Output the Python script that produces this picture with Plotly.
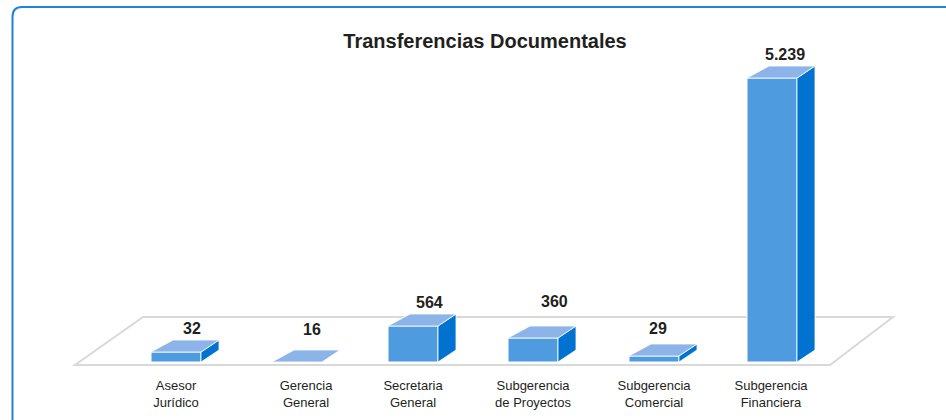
import plotly.graph_objects as go

# ---- data ----
categories = ["Asesor<br>Jurídico", "Gerencia<br>General", "Secretaria<br>General",
              "Subgerencia<br>de Proyectos", "Subgerencia<br>Comercial", "Subgerencia<br>Financiera"]
value_labels = ["32", "16", "564", "360", "29", "5.239"]
# The source draws its short bars out of proportion to their labels, so the
# heights below are what is seen in the picture, on the scale of the tallest bar.
drawn_values = [184, 0, 664, 443, 111, 5239]

# ---- layout constants (pixels of the 946x420 page) ----
W, H = 946, 420
PLOT_BOTTOM = 372
ZERO_Y, TOP_Y = 362, 78
UNITS_PER_PX = 5239 / (ZERO_Y - TOP_Y)
bar_centers = [176, 297, 413, 533, 654, 772]
label_centers = [176, 306, 413, 533, 654, 771]
label_xshift = [16, 15, 16, 21, 4, 13]
label_yshift = [24, 33, 24, 36, 27, 24]
BAR_W = 50
BACK_L, BACK_R, BACK_UP = 22, 18, 12

FRONT, SIDE, TOP = "#4E9BDF", "#0072D0", "#8CB4E9"
BORDER = "#1F82DC"


def px(x):
    return x / W


def py(y):
    return (PLOT_BOTTOM - y) / PLOT_BOTTOM


fig = go.Figure()
fig.add_trace(go.Bar(x=bar_centers, y=drawn_values, width=BAR_W,
                     marker=dict(color=FRONT, line=dict(color="white", width=1)),
                     hoverinfo="skip", showlegend=False))

up = BACK_UP * UNITS_PER_PX
for c, v in zip(bar_centers, drawn_values):
    l, r = c - BAR_W / 2, c + BAR_W / 2
    fig.add_trace(go.Scatter(x=[r, r + BACK_R, r + BACK_R, r, r], y=[0, up, v + up, v, 0],
                             mode="lines", fill="toself", fillcolor=SIDE,
                             line=dict(color="white", width=0.8),
                             hoverinfo="skip", showlegend=False))
    fig.add_trace(go.Scatter(x=[l, l + BACK_L, r + BACK_R, r, l], y=[v, v + up, v + up, v, v],
                             mode="lines", fill="toself", fillcolor=TOP,
                             line=dict(color="white", width=0.8),
                             hoverinfo="skip", showlegend=False))

annotations = [
    dict(x=c, y=v, xref="x", yref="y", text=t, showarrow=False, xshift=dx, yshift=dy,
         xanchor="center", yanchor="middle",
         font=dict(family="Liberation Sans", size=16, color="#231F20", weight="bold"))
    for c, v, t, dx, dy in zip(bar_centers, drawn_values, value_labels, label_xshift, label_yshift)
]

floor = [(75, 365), (830, 365), (893, 317), (143, 317)]
floor_path = "M " + " L ".join(f"{px(x):.5f},{py(y):.5f}" for x, y in floor) + " Z"
border_path = (f"M {px(12.5):.5f},{py(422):.5f} L {px(12.5):.5f},{py(17):.5f} "
               f"Q {px(12.5):.5f},{py(7):.5f} {px(22):.5f},{py(7):.5f} L {px(948):.5f},{py(7):.5f}")

shapes = [
    dict(type="path", path=floor_path, xref="paper", yref="paper",
         line=dict(color="#D9D9D9", width=2), layer="below"),
    dict(type="path", path=border_path, xref="paper", yref="paper",
         line=dict(color=BORDER, width=2), layer="below"),
]

fig.update_layout(
    width=W, height=H, autosize=False,
    margin=dict(l=0, r=0, t=0, b=H - PLOT_BOTTOM, pad=0),
    paper_bgcolor="white", plot_bgcolor="white",
    title=dict(text="<b>Transferencias Documentales</b>", x=485 / W, xanchor="center",
               y=1 - 41 / H, yanchor="middle",
               font=dict(family="Liberation Sans", size=20, color="#231F20")),
    xaxis=dict(range=[0, W], tickmode="array", tickvals=label_centers, ticktext=categories,
               showgrid=False, zeroline=False, showline=False, ticks="outside",
               ticklen=1, tickcolor="rgba(0,0,0,0)", automargin=False,
               tickfont=dict(family="Liberation Sans", size=13, color="#231F20")),
    yaxis=dict(range=[(ZERO_Y - PLOT_BOTTOM) * UNITS_PER_PX, ZERO_Y * UNITS_PER_PX],
               visible=False),
    annotations=annotations, shapes=shapes, showlegend=False,
)

fig.write_html("out.html", config={"displayModeBar": False},
               post_script="document.body.style.margin='0';document.body.style.overflow='hidden';")
